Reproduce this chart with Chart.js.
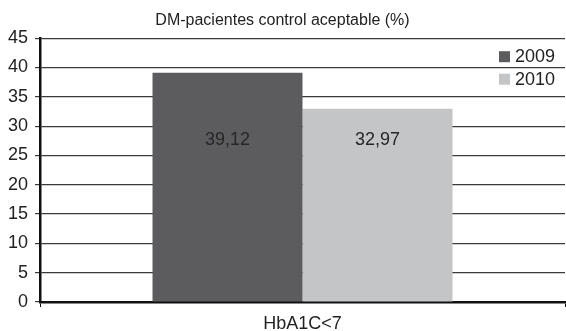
<!DOCTYPE html>
<html>
<head>
<meta charset="utf-8">
<script src="https://cdn.jsdelivr.net/npm/chart.js@4.4.0/dist/chart.umd.min.js"></script>
<style>
  html, body { margin: 0; padding: 0; background: #fff; }
  #wrap { width: 566px; height: 331px; position: relative; }
</style>
</head>
<body>
<div id="wrap"><canvas id="chart"></canvas></div>
<script>
const categories = ['HbA1C<7'];
const years = ['2009', '2010'];
const values2009 = [39.12];
const values2010 = [32.97];
const yTicks = [0, 5, 10, 15, 20, 25, 30, 35, 40, 45];

const colors = ['#5c5c5e', '#c4c5c7'];
const labelLevel = 27.6; // height where the value labels sit

// valores dentro de las barras
const valueLabels = {
    id: 'valueLabels',
    afterDatasetsDraw(chart) {
        const ctx = chart.ctx;
        const y = chart.scales.y.getPixelForValue(labelLevel);
        ctx.save();
        ctx.font = '18px "Liberation Sans", Arial, sans-serif';
        ctx.fillStyle = '#262626';
        ctx.textAlign = 'center';
        ctx.textBaseline = 'middle';
        chart.data.datasets.forEach((ds, i) => {
            chart.getDatasetMeta(i).data.forEach((bar, j) => {
                ctx.fillText(ds.data[j].toFixed(2).replace('.', ','), bar.x, y);
            });
        });
        ctx.restore();
    }
};

// leyenda dentro del area del grafico
const innerLegend = {
    id: 'innerLegend',
    afterDraw(chart) {
        const ctx = chart.ctx;
        const area = chart.chartArea;
        ctx.save();
        ctx.font = '18px "Liberation Sans", Arial, sans-serif';
        ctx.textBaseline = 'middle';
        ctx.textAlign = 'left';
        chart.data.datasets.forEach((ds, i) => {
            const bx = area.right - 66;
            const by = area.top + 13 + i * 22.5;
            ctx.fillStyle = ds.backgroundColor;
            ctx.fillRect(bx, by, 11, 11);
            ctx.fillStyle = '#222';
            ctx.fillText(ds.label, bx + 16, by + 6);
        });
        ctx.restore();
    }
};

new Chart(document.getElementById('chart'), {
    type: 'bar',
    data: {
        labels: categories,
        datasets: [
            { label: years[0], data: values2009, backgroundColor: colors[0] },
            { label: years[1], data: values2010, backgroundColor: colors[1] }
        ]
    },
    options: {
        responsive: true,
        maintainAspectRatio: false,
        animation: false,
        layout: { padding: { left: 0, right: 1, top: 0, bottom: 0 } },
        datasets: {
            bar: { categoryPercentage: 0.5714, barPercentage: 1 }
        },
        scales: {
            x: {
                afterFit: (s) => { s.height = 29; },
                grid: { drawOnChartArea: false, drawTicks: true, tickLength: 5, color: '#111', offset: true },
                border: { color: '#111', width: 2.5 },
                ticks: {
                    padding: 6,
                    color: '#222',
                    font: { family: '"Liberation Sans", Arial, sans-serif', size: 18 }
                }
            },
            y: {
                min: 0,
                max: 45,
                afterFit: (s) => { s.width = 40; },
                afterBuildTicks: (s) => { s.ticks = yTicks.map(v => ({ value: v })); },
                grid: { color: '#3a3a3a', lineWidth: 1.2, tickLength: 5 },
                border: { color: '#111', width: 2.5 },
                ticks: {
                    padding: 7,
                    color: '#222',
                    font: { family: '"Liberation Sans", Arial, sans-serif', size: 18 }
                }
            }
        },
        plugins: {
            legend: { display: false },
            tooltip: { enabled: false },
            title: {
                display: true,
                text: 'DM-pacientes control aceptable (%)',
                color: '#222',
                font: { family: '"Liberation Sans", Arial, sans-serif', size: 16, weight: 'normal' },
                padding: { top: 11, bottom: 8 }
            }
        }
    },
    plugins: [valueLabels, innerLegend]
});
</script>
</body>
</html>
